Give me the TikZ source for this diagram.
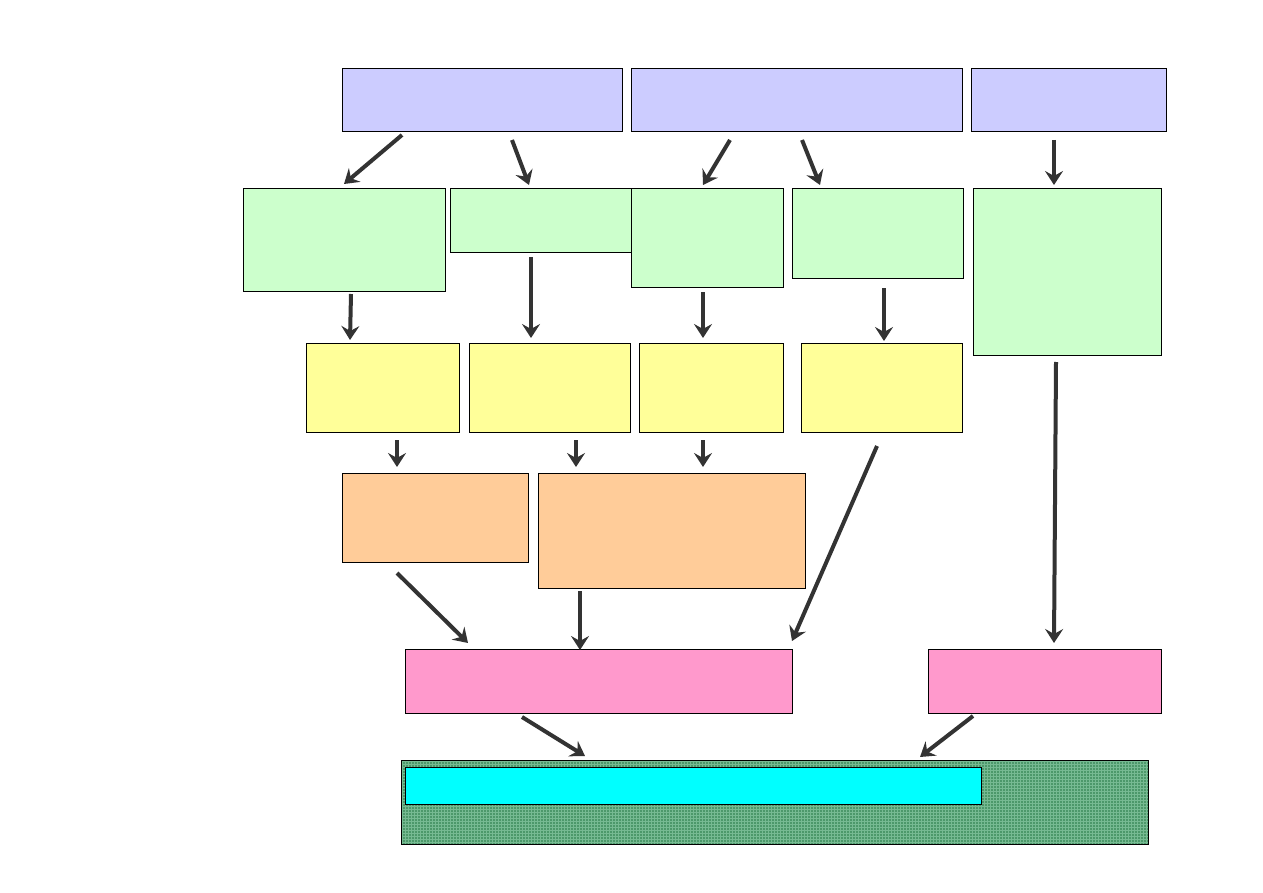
\documentclass[tikz,border=0pt]{standalone}
\usetikzlibrary{arrows.meta,patterns}
\definecolor{cblue}{RGB}{204,204,255}
\definecolor{cgreen}{RGB}{204,255,204}
\definecolor{cyel}{RGB}{255,255,153}
\definecolor{corange}{RGB}{255,204,153}
\definecolor{cpink}{RGB}{255,153,204}
\definecolor{ccyan}{RGB}{0,255,255}
\definecolor{cdark}{RGB}{76,152,106}
\definecolor{clight}{RGB}{118,186,146}
\definecolor{carrow}{RGB}{51,51,51}
\tikzset{
  box/.style={draw=black,line width=0.9pt,inner sep=0pt,outer sep=0pt,anchor=north west},
  arr/.style={draw=carrow,line width=4pt,-{Stealth[length=14pt,width=18pt,inset=5pt]}},
}
\newcommand{\bx}[7]{\node[box,fill=#2,minimum width={#5-#3},minimum height={#6-#4}] (#1) at (#3,#4) {#7};}
\begin{document}
\begin{tikzpicture}[x=1pt,y=-1pt]
\useasboundingbox (0,0) rectangle (1263,893);
% blue
\bx{b1}{cblue}{342}{68}{622}{131}{}
\bx{b2}{cblue}{631}{68}{962}{131}{}
\bx{b3}{cblue}{971}{68}{1166}{131}{}
% green
\bx{g1}{cgreen}{243}{188}{445}{291}{}
\bx{g2}{cgreen}{450}{188}{631}{252}{}
\bx{g3}{cgreen}{631}{188}{783}{287}{}
\bx{g4}{cgreen}{792}{188}{963}{278}{}
\bx{g5}{cgreen}{973}{188}{1161}{355}{}
% yellow
\bx{y1}{cyel}{306}{343}{459}{432}{}
\bx{y2}{cyel}{469}{343}{630}{432}{}
\bx{y3}{cyel}{639}{343}{783}{432}{}
\bx{y4}{cyel}{801}{343}{962}{432}{}
% orange
\bx{o1}{corange}{342}{473}{528}{562}{}
\bx{o2}{corange}{538}{473}{805}{588}{}
% pink
\bx{p1}{cpink}{405}{649}{792}{713}{}
\bx{p2}{cpink}{928}{649}{1161}{713}{}
% bottom patterned
\node[box,fill=cdark,minimum width=747,minimum height=84] (base) at (401,760) {};
\fill[pattern=grid,pattern color=clight] (base.north west) rectangle (base.south east);
\draw[black,line width=0.9pt] (base.north west) rectangle (base.south east);
\bx{cy}{ccyan}{405}{767}{981}{804}{}
% arrow endpoints
\coordinate (a1s) at (402,135); \coordinate (a1e) at (344,184);
\coordinate (a2s) at (512,140); \coordinate (a2e) at (529,185);
\coordinate (a3s) at (730,140); \coordinate (a3e) at (703,185);
\coordinate (a4s) at (802,140); \coordinate (a4e) at (820,185);
\coordinate (a5s) at (1054,140); \coordinate (a5e) at (1054,185);
\coordinate (a6s) at (351,294); \coordinate (a6e) at (350,340);
\coordinate (a7s) at (531,257); \coordinate (a7e) at (531,338);
\coordinate (a8s) at (703,292); \coordinate (a8e) at (703,338);
\coordinate (a9s) at (884,288); \coordinate (a9e) at (884,341);
\coordinate (a10s) at (397,440); \coordinate (a10e) at (397,467);
\coordinate (a11s) at (576,440); \coordinate (a11e) at (576,467);
\coordinate (a12s) at (703,440); \coordinate (a12e) at (703,467);
\coordinate (a13s) at (877,446); \coordinate (a13e) at (792,641);
\coordinate (a14s) at (1056,362); \coordinate (a14e) at (1054,643);
\coordinate (a15s) at (397,573); \coordinate (a15e) at (468,643);
\coordinate (a16s) at (580,591); \coordinate (a16e) at (580,650);
\coordinate (a17s) at (522,717); \coordinate (a17e) at (585,756);
\coordinate (a18s) at (973,716); \coordinate (a18e) at (920,757);
\foreach \i in {1,...,18} {\draw[arr] (a\i s) -- (a\i e);}
\end{tikzpicture}
\end{document}
